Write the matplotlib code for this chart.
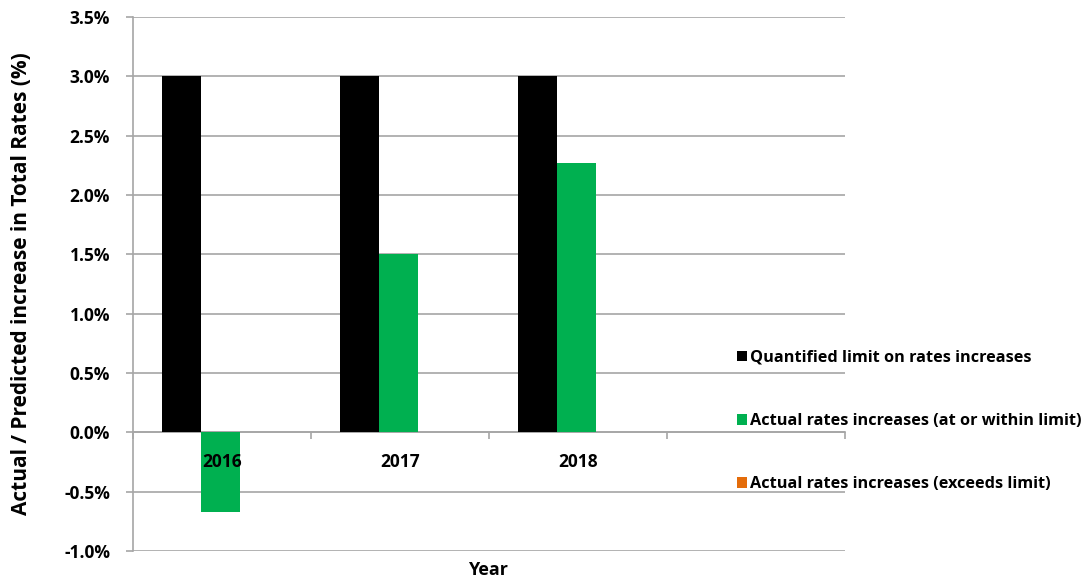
import matplotlib
matplotlib.use("Agg")
import matplotlib.pyplot as plt
from matplotlib.patches import Patch
from matplotlib.ticker import FuncFormatter, MultipleLocator
import numpy as np

# Rates increases per year (percent); the last category has no data yet
years = ["2016", "2017", "2018", ""]
limit = [3.0, 3.0, 3.0, np.nan]
within_limit = [-0.67, 1.5, 2.27, np.nan]
exceeds_limit = [0.0, 0.0, 0.0, np.nan]

series_names = [
    "Quantified limit on rates increases",
    "Actual rates increases (at or within limit)",
    "Actual rates increases (exceeds limit)",
]
colors = ["#000000", "#00B050", "#E46C0A"]

plt.rcParams["font.family"] = ["Open Sans", "DejaVu Sans"]
plt.rcParams["font.weight"] = "bold"
GRID = "#a6a6a6"

fig = plt.figure(figsize=(10.85, 5.83), dpi=100)
ax = fig.add_axes([0.1226, 0.0549, 0.6562, 0.9159])

x = np.arange(len(years))
w = 0.219
for i, (vals, col) in enumerate(zip([limit, within_limit, exceeds_limit], colors)):
    ax.bar(x + (i - 1) * w - 0.01, vals, width=w, color=col, zorder=3)

ax.set_xlim(-0.5, len(years) - 0.5)
ax.set_ylim(-1.0, 3.5)
ax.yaxis.set_major_locator(MultipleLocator(0.5))
ax.yaxis.set_major_formatter(FuncFormatter(lambda v, _: f"{v:.1f}%"))
ax.grid(axis="y", color=GRID, lw=1.2, zorder=0)
ax.set_axisbelow(True)

for s in ["top", "right"]:
    ax.spines[s].set_visible(False)
ax.spines["left"].set_color(GRID)
ax.spines["left"].set_linewidth(1.2)
ax.spines["bottom"].set_position(("data", 0))
ax.spines["bottom"].set_color(GRID)
ax.spines["bottom"].set_linewidth(1.2)

ax.tick_params(axis="y", length=5, color=GRID, width=1.2, labelsize=12.5, pad=11.5)
for lbl in ax.get_yticklabels():
    lbl.set_fontweight("bold")

# category boundaries get the tick marks; year names sit above the bars
ax.set_xticks(np.arange(-0.5, len(years) + 0.5))
ax.set_xticklabels([])
ax.tick_params(axis="x", length=5, color=GRID, width=1.2)
for xi, yr in zip(x, years):
    ax.annotate(yr, (xi, 0), xytext=(0, -30), textcoords="offset pixels",
                ha="center", va="center", fontsize=12.5, fontweight="bold", zorder=5)

ax.set_ylabel("Actual / Predicted increase in Total Rates (%)", fontsize=15, fontweight="bold")
ax.yaxis.set_label_coords(-0.142, 0.5)
fig.text(0.4498, 0.0223, "Year", ha="center", va="center", fontsize=13, fontweight="bold")

handles = [Patch(facecolor=c, edgecolor="none") for c in colors]
fig.legend(handles, series_names, loc="upper left", bbox_to_anchor=(0.6658, 0.425),
           frameon=False, labelspacing=2.9, handlelength=0.62,
           handleheight=0.62, handletextpad=0.2, prop={"weight": "bold", "size": 11.7})

fig.savefig("out.png", dpi=100)
